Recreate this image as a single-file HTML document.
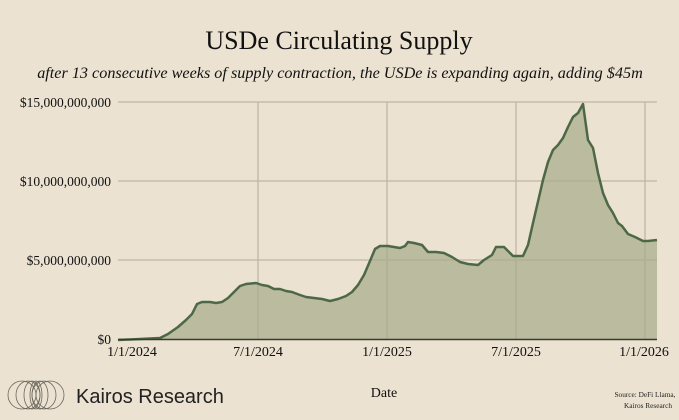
<!DOCTYPE html>
<html><head><style>
body{margin:0;background:#ebe2d1;}
svg{display:block;font-family:"Liberation Serif",serif;}
</style></head><body>
<svg width="679" height="420" viewBox="0 0 679 420">
<rect width="679" height="420" fill="#ebe2d1"/>
<text x="339" y="49" text-anchor="middle" font-size="26" fill="#111">USDe Circulating Supply</text>
<text x="340" y="78" text-anchor="middle" font-size="16.2" font-style="italic" fill="#111">after 13 consecutive weeks of supply contraction, the USDe is expanding again, adding $45m</text>
<g stroke="#bfb6a4" stroke-width="1.3">
<line x1="118" y1="102" x2="657" y2="102"/>
<line x1="118" y1="181" x2="657" y2="181"/>
<line x1="118" y1="260" x2="657" y2="260"/>
<line x1="258" y1="102" x2="258" y2="339"/>
<line x1="387" y1="102" x2="387" y2="339"/>
<line x1="516" y1="102" x2="516" y2="339"/>
<line x1="645" y1="102" x2="645" y2="339"/>
</g>
<polygon fill="#a5ab8a" fill-opacity="0.7" points="118,339 118,340 140,339 160,338 168,334 178,327 186,320 192,314 197,304 202,302 210,302 216,303 222,302 228,298 234,292 240,286 246,284 256,283 262,285 268,286 274,289 280,289 286,291 292,292 300,295 306,297 314,298 322,299 330,301 338,299 346,296 352,292 358,285 364,275 370,261 375,249 380,246 388,246 394,247 400,248 405,246 408,242 414,243 422,245 428,252 436,252 444,253 452,257 460,262 468,264 478,265 484,260 492,255 496,247 502,247 504,247 513,256 523,256 528,245 533,223 543,180 548,162 553,150 558,145 563,138 568,127 573,117 578,113 583,104 588,140 593,148 598,173 603,193 608,205 613,213 618,223 622,226 628,234 635,237 643,241 648,241 657,240 657,339"/>
<polyline fill="none" stroke="#4d6846" stroke-width="2.5" stroke-linejoin="round" points="118,340 140,339 160,338 168,334 178,327 186,320 192,314 197,304 202,302 210,302 216,303 222,302 228,298 234,292 240,286 246,284 256,283 262,285 268,286 274,289 280,289 286,291 292,292 300,295 306,297 314,298 322,299 330,301 338,299 346,296 352,292 358,285 364,275 370,261 375,249 380,246 388,246 394,247 400,248 405,246 408,242 414,243 422,245 428,252 436,252 444,253 452,257 460,262 468,264 478,265 484,260 492,255 496,247 502,247 504,247 513,256 523,256 528,245 533,223 543,180 548,162 553,150 558,145 563,138 568,127 573,117 578,113 583,104 588,140 593,148 598,173 603,193 608,205 613,213 618,223 622,226 628,234 635,237 643,241 648,241 657,240"/>
<line x1="118" y1="339.5" x2="657" y2="339.5" stroke="#3a3a30" stroke-width="1.6"/>
<g font-size="13.5" fill="#111" text-anchor="end">
<text x="111" y="107">$15,000,000,000</text>
<text x="111" y="186">$10,000,000,000</text>
<text x="111" y="265">$5,000,000,000</text>
<text x="111" y="344">$0</text>
</g>
<g font-size="14" fill="#111" text-anchor="middle">
<text x="132" y="356">1/1/2024</text>
<text x="258" y="356">7/1/2024</text>
<text x="387" y="356">1/1/2025</text>
<text x="516" y="356">7/1/2025</text>
<text x="644" y="356">1/1/2026</text>
<text x="384" y="397">Date</text>
</g>
<g fill="none" stroke="#6a665c" stroke-width="0.8">
<ellipse cx="22" cy="395" rx="14" ry="14"/>
<ellipse cx="28" cy="395" rx="12" ry="14"/>
<ellipse cx="32" cy="395" rx="8" ry="14"/>
<ellipse cx="36" cy="395" rx="6" ry="14"/>
<ellipse cx="40" cy="395" rx="8" ry="14"/>
<ellipse cx="44" cy="395" rx="12" ry="14"/>
<ellipse cx="50" cy="395" rx="14" ry="14"/>
</g>
<text x="76" y="403" font-family="Liberation Sans,sans-serif" font-size="20" fill="#222">Kairos Research</text>
<g font-size="7.3" fill="#222" text-anchor="middle">
<text x="645" y="397">Source: DeFi Llama,</text>
<text x="648" y="408">Kairos Research</text>
</g>
</svg>
</body></html>
